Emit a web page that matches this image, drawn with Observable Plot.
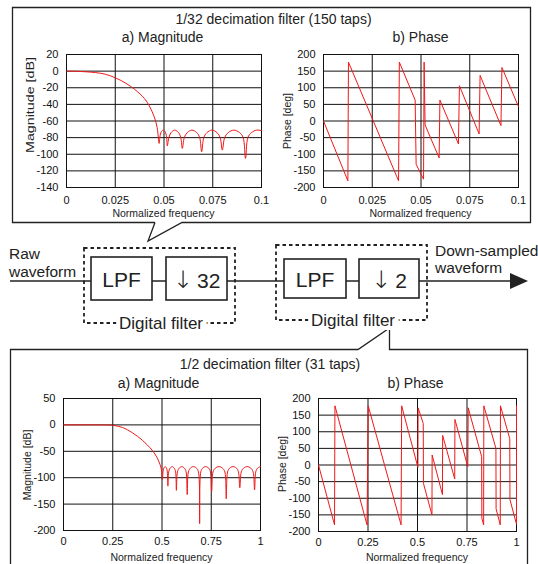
<!DOCTYPE html>
<html><head><meta charset="utf-8">
<script src="https://cdn.jsdelivr.net/npm/d3@7"></script>
<script src="https://cdn.jsdelivr.net/npm/@observablehq/plot@0.6"></script>
<style>
html,body{margin:0;padding:0;background:#fff;}
#root{position:relative;width:538px;height:564px;overflow:hidden;font-family:"Liberation Sans",Arial,sans-serif;}
#root svg{position:absolute;left:0;top:0;max-width:none;}
</style></head><body><div id="root"></div>
<script>
// ---- 1/32 decimation filter (150 taps) ----
const freqTicks32 = [0, 0.025, 0.05, 0.075, 0.1];
const magTicks32 = [20, 0, -20, -40, -60, -80, -100, -120, -140];
const phaseTicks = [200, 150, 100, 50, 0, -50, -100, -150, -200];
const mag32Freq = [0,0.005,0.01,0.015,0.02,0.025,0.03,0.035,0.04,0.0425,0.045,0.0465,0.0475,
  0.0479,0.0486,0.0496,0.0506,0.0513,0.0517,
  0.0525,0.0536,0.0555,0.0575,0.0586,0.0594,
  0.0604,0.0619,0.0643,0.0668,0.0683,0.0693,
  0.0704,0.072,0.0746,0.0772,0.0788,0.0799,
  0.0811,0.0829,0.0858,0.0888,0.0906,0.0918,
  0.093,0.0948,0.0975,0.1];
const mag32Db = [0,-0.2,-0.8,-1.8,-3.8,-8,-14,-22,-33,-42,-55,-68,-87,
  -79,-73,-71,-73,-79,-90,
  -80,-74,-71,-74,-80,-93,
  -80,-74,-71,-74,-80,-97,
  -80,-74,-71,-74,-80,-95,
  -80,-74,-71,-74,-80,-105,
  -80,-74,-71,-71.5];
const phase32Freq = [0,0.0125,0.0128,0.0385,0.0389,0.047,0.0475,0.0513,0.0516,0.0521,0.0593,0.0597,0.0692,0.0697,0.0798,0.0803,0.091,0.0915,0.1];
const phase32Deg = [0,-180,177,-180,177,63,-130,-175,177,-12,-111,63,-69,106,-39,137,-14,161,43];

// ---- 1/2 decimation filter (31 taps) ----
const freqTicks2 = [0, 0.25, 0.5, 0.75, 1];
const magTicks2 = [50, 0, -50, -100, -150, -200];
const mag2Freq = [0,0.1,0.2,0.25,0.3,0.35,0.4,0.45,0.475,0.49,0.497,0.502,
  0.505,0.509,0.516,0.523,0.527,0.530,
  0.534,0.541,0.5515,0.562,0.569,0.573,
  0.5785,0.587,0.6005,0.614,0.6225,0.628,
  0.634,0.644,0.6595,0.675,0.685,0.691,
  0.697,0.706,0.7215,0.737,0.746,0.752,
  0.759,0.7705,0.789,0.8075,0.819,0.826,
  0.833,0.843,0.8605,0.878,0.888,0.895,
  0.9025,0.914,0.9325,0.951,0.9625,0.970,
  0.976,0.985,1];
const mag2Db = [0,0,-0.1,-0.8,-5,-15,-29,-48,-62,-75,-85,-104,
  -89,-82,-79,-82,-89,-116,
  -89,-82,-79,-82,-89,-124,
  -89,-82,-79,-82,-89,-132,
  -89,-82,-79,-82,-89,-187,
  -89,-82,-79,-82,-89,-126,
  -89,-82,-79,-82,-89,-140,
  -89,-82,-79,-82,-89,-119,
  -89,-82,-79,-82,-89,-123,
  -89,-82,-79];
const phase2Freq = [0,0.081,0.083,0.245,0.251,0.417,0.42,0.502,0.503,0.529,0.53,0.573,0.574,0.626,0.627,0.688,0.689,0.754,0.756,0.824,0.825,0.834,0.835,0.896,0.897,0.918,0.919,0.966,0.967,1,1];
const phase2Deg = [0,-180,178,-180,178,-180,178,-7,172,125,-55,-150,30,-89,89,-42,137,-5,172,25,-160,-180,178,50,-132,-180,178,79,-104,-178,178];

const W = 538, H = 564;
const ink = "#222";
const FONT = "Liberation Sans, Arial, sans-serif";
const root = document.getElementById("root");

// ---------- overlay: callouts, block diagram, titles ----------
const ov = d3.select(root).append("svg").attr("width", W).attr("height", H);

function txt(x, y, s, size, anchor = "middle", rot = false, len = null) {
  const t = ov.append("text")
    .attr("font-family", FONT).attr("font-size", size).attr("fill", ink)
    .attr("text-anchor", anchor).attr("dominant-baseline", "central")
    .text(s);
  if (rot) t.attr("transform", `translate(${x},${y}) rotate(-90)`);
  else t.attr("x", x).attr("y", y);
  if (len) t.attr("textLength", len).attr("lengthAdjust", "spacingAndGlyphs");
  return t;
}

// callout boxes
ov.append("path").attr("d", "M155,222.5 H12.5 V7.5 H530.5 V222.5 H182 L148,241 L155,222.5")
  .attr("fill", "none").attr("stroke", ink).attr("stroke-width", 1.3);
ov.append("path").attr("d", "M10.5,570 V349.5 H358 L389.5,328 V349.5 H527.5 V570")
  .attr("fill", "none").attr("stroke", ink).attr("stroke-width", 1.3);

// block diagram
ov.append("line").attr("x1", 10).attr("x2", 512).attr("y1", 281).attr("y2", 281)
  .attr("stroke", ink).attr("stroke-width", 1.6);
ov.append("path").attr("d", "M510,273 L528,281 L510,289 Z").attr("fill", ink);

const dashed = [[84, 248, 235, 323], [276, 245, 427, 320]];
dashed.forEach(([x0, y0, x1, y1]) => {
  ov.append("rect").attr("x", x0).attr("y", y0).attr("width", x1 - x0).attr("height", y1 - y0)
    .attr("fill", "none").attr("stroke", ink).attr("stroke-width", 1.8).attr("stroke-dasharray", "3.5,3");
});
const blocks = [[91, 257, 152, 300, "", "LPF"], [166, 257, 227, 300, "↓", "32"], [284, 259, 346, 298, "", "LPF"], [359, 259, 419, 298, "↓", "2"]];
blocks.forEach(([x0, y0, x1, y1, arrow, s]) => {
  ov.append("rect").attr("x", x0).attr("y", y0).attr("width", x1 - x0).attr("height", y1 - y0)
    .attr("fill", "#fff").attr("stroke", ink).attr("stroke-width", 1.6);
  const t = txt((x0 + x1) / 2, (y0 + y1) / 2 + 1, "", 21);
  if (arrow) {
    t.append("tspan").attr("font-family", "DejaVu Sans").attr("font-weight", 200)
      .attr("font-size", 24).text(arrow);
    t.append("tspan").text("\u2009" + s);
  } else t.text(s);
});
[[161, 323], [353, 320]].forEach(([x, y]) => {
  txt(x, y, "Digital filter", 17).attr("stroke", "#fff").attr("stroke-width", 8).attr("paint-order", "stroke");
});
txt(9, 253, "Raw", 15.5, "start");
txt(9, 271, "waveform", 15.5, "start");
txt(435, 250, "Down-sampled", 15.5, "start");
txt(435, 267, "waveform", 15.5, "start");

// titles & axis labels
txt(273.5, 19, "1/32 decimation filter (150 taps)", 14);
txt(162.5, 37, "a) Magnitude", 14);
txt(420.5, 37, "b) Phase", 14);
txt(163.5, 213, "Normalized frequency", 10.5);
txt(420.5, 213, "Normalized frequency", 10.5);
txt(30, 105, "Magnitude [dB]", 10.5, "middle", true, 96);
txt(287, 121, "Phase [deg]", 10.5, "middle", true);

txt(270, 364, "1/2 decimation filter (31 taps)", 14);
txt(158.5, 382.5, "a) Magnitude", 14);
txt(415.5, 382.5, "b) Phase", 14);
txt(161.5, 556.5, "Normalized frequency", 10.5);
txt(417, 556.5, "Normalized frequency", 10.5);
txt(27, 465, "Magnitude [dB]", 10.5, "middle", true);
txt(282, 464, "Phase [deg]", 10.5, "middle", true);

// ---------- charts ----------
function chart({frame, xDomain, xTicks, yDomain, yTicks, freq, vals, padX, curve}) {
  const [x0, x1, y0, y1] = frame;
  const data = freq.map((f, i) => ({f, v: vals[i]}));
  return Plot.plot({
    width: W, height: H,
    marginLeft: x0, marginRight: W - x1, marginTop: y0, marginBottom: H - y1,
    style: {background: "transparent", fontFamily: FONT, fontSize: "11px", color: "#111", overflow: "visible"},
    x: {domain: xDomain},
    y: {domain: yDomain},
    marks: [
      Plot.gridX(xTicks, {stroke: "#111", strokeOpacity: 1}),
      Plot.gridY(yTicks, {stroke: "#111", strokeOpacity: 1}),
      Plot.frame({stroke: "#111"}),
      Plot.line(data, {x: "f", y: "v", stroke: "#f01818", strokeWidth: 1, curve}),
      Plot.axisX(xTicks, {tickSize: 0, tickPadding: padX, tickFormat: d => String(d), label: null}),
      Plot.axisY(yTicks, {tickSize: 0, tickPadding: 8, tickFormat: d => String(d), label: null})
    ]
  });
}

root.appendChild(chart({frame: [66, 261, 54, 187], xDomain: [0, 0.1], xTicks: freqTicks32,
  yDomain: [-140, 20], yTicks: magTicks32, freq: mag32Freq, vals: mag32Db, padX: 9, curve: "catmull-rom"}));
root.appendChild(chart({frame: [323, 518, 54, 187], xDomain: [0, 0.1], xTicks: freqTicks32,
  yDomain: [-200, 200], yTicks: phaseTicks, freq: phase32Freq, vals: phase32Deg, padX: 9, curve: "linear"}));
root.appendChild(chart({frame: [63, 260, 398, 530], xDomain: [0, 1], xTicks: freqTicks2,
  yDomain: [-200, 50], yTicks: magTicks2, freq: mag2Freq, vals: mag2Db, padX: 7, curve: "catmull-rom"}));
root.appendChild(chart({frame: [318, 516, 398, 531], xDomain: [0, 1], xTicks: freqTicks2,
  yDomain: [-200, 200], yTicks: phaseTicks, freq: phase2Freq, vals: phase2Deg, padX: 7, curve: "linear"}));
</script>
</body></html>
